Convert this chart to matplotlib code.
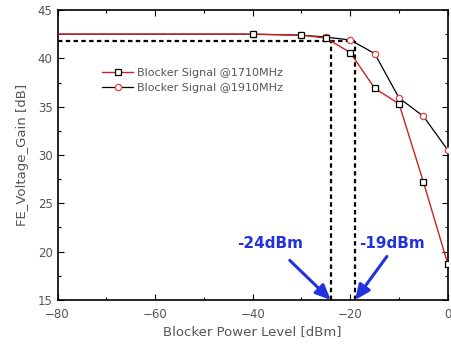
import matplotlib
matplotlib.use("Agg")
import matplotlib.pyplot as plt
from matplotlib.ticker import MultipleLocator

# Data
power_dbm = [-80, -40, -30, -25, -20, -15, -10, -5, 0]
gain_1710 = [42.5, 42.5, 42.4, 42.1, 40.6, 36.9, 35.3, 27.2, 18.7]
gain_1910 = [42.5, 42.5, 42.4, 42.2, 41.9, 40.5, 35.9, 34.0, 30.5]
label_1710 = "Blocker Signal @1710MHz"
label_1910 = "Blocker Signal @1910MHz"
marker_x = [-24, -19]
marker_level = 41.8
marker_texts = ["-24dBm", "-19dBm"]
text_x = [-36.5, -11.5]
arrow_start = [(-32.4, 19.1), (-12.5, 19.5)]

fig = plt.figure(figsize=(4.51, 3.46), dpi=100)
ax = fig.add_axes([0.1275, 0.133, 0.8655, 0.838])

gray = "#555555"
blue = "#2233dd"
ax.plot(power_dbm, gain_1910, color="black", lw=0.9, marker="o", ms=4.5,
        mfc="white", mec="#dd4444", mew=0.9, markevery=list(range(1, len(power_dbm))),
        label=label_1910, zorder=3)
ax.plot(power_dbm, gain_1710, color="#cc2222", lw=1.0, marker="s", ms=4.5,
        mfc="white", mec="black", mew=0.9, markevery=list(range(1, len(power_dbm))),
        label=label_1710, zorder=4)

# dashed guide lines
ax.plot([-80, marker_x[1]], [marker_level, marker_level], color="black",
        lw=1.6, ls=(0, (2, 1.5)), zorder=2)
for xv in marker_x:
    ax.plot([xv, xv], [15, marker_level], color="black", lw=1.6,
            ls=(0, (2, 1.5)), zorder=2)

# annotations
for tx, txt in zip(text_x, marker_texts):
    ax.text(tx, 20.8, txt, color=blue, fontsize=11, fontweight="bold",
            ha="center", va="center")
for (sx, sy), xv in zip(arrow_start, marker_x):
    ax.annotate("", xy=(xv, 15), xytext=(sx, sy),
                arrowprops=dict(arrowstyle="-|>,head_width=0.4,head_length=0.9",
                                color=blue, lw=2.2, shrinkA=0, shrinkB=0),
                annotation_clip=False)

ax.set_xlim(-80, 0)
ax.set_ylim(15, 45)
ax.xaxis.set_major_locator(MultipleLocator(20))
ax.xaxis.set_minor_locator(MultipleLocator(10))
ax.yaxis.set_major_locator(MultipleLocator(5))
ax.yaxis.set_minor_locator(MultipleLocator(2.5))
ax.tick_params(which="both", direction="in", top=True, right=True,
               labelcolor=gray, labelsize=8.5, width=0.8)
ax.tick_params(axis="x", pad=6)
ax.tick_params(which="major", length=4)
ax.tick_params(which="minor", length=2)
for s in ax.spines.values():
    s.set_linewidth(1.2)

ax.set_xlabel("Blocker Power Level [dBm]", color=gray, fontsize=9.5, labelpad=3)
ax.set_ylabel("FE_Voltage_Gain [dB]", color=gray, fontsize=9.5, labelpad=6)

handles, labels = ax.get_legend_handles_labels()
leg = ax.legend(handles[::-1], labels[::-1], loc="upper left",
                bbox_to_anchor=(0.10, 0.82), frameon=False, borderpad=0,
                fontsize=8, handlelength=2.8, labelspacing=0.45,
                handletextpad=0.3, labelcolor=gray)

fig.savefig("out.png", dpi=100)
